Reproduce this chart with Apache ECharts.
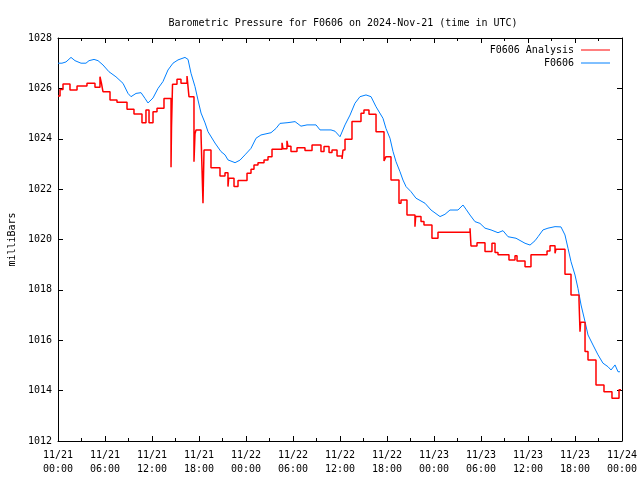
<!DOCTYPE html>
<html>
<head>
<meta charset="utf-8">
<script src="https://cdn.jsdelivr.net/npm/echarts@6/dist/echarts.min.js"></script>
<style>html,body{margin:0;padding:0;background:#fff}#c{width:640px;height:480px}</style>
</head>
<body>
<div id="c"></div>
<script>
// Time in hours since 2024-11-21 00:00 UTC
var xTicks = [0, 6, 12, 18, 24, 30, 36, 42, 48, 54, 60, 66, 72];
var yTicks = [1012, 1014, 1016, 1018, 1020, 1022, 1024, 1026, 1028];

// F0606 (observed) - blue
var obsTimes = [0,0.51,1.02,1.66,2.17,2.94,3.57,3.96,4.60,5.11,5.74,6.51,7.40,8.30,8.94,9.32,9.96,10.60,11.11,11.49,12.13,12.77,13.40,14.04,14.68,15.32,16.21,16.60,16.98,17.49,17.87,18.26,18.77,19.15,20.04,20.81,21.32,21.70,22.60,23.23,23.87,24.64,25.28,25.91,27.19,27.83,28.34,29.36,30.26,31.02,31.79,32.94,33.45,34.85,35.36,36.00,36.64,37.28,37.91,38.55,39.32,39.96,40.60,40.85,41.49,41.87,42.38,42.77,43.15,43.66,44.04,44.43,45.06,45.70,46.85,47.62,48.77,49.40,50.04,51.06,51.70,52.09,52.60,53.23,53.87,54.51,55.28,56.17,56.81,57.45,58.47,59.62,60.26,60.89,61.28,61.91,62.55,63.45,64.21,64.72,65.11,65.49,66.00,66.38,66.77,67.28,67.66,68.30,68.94,69.57,70.21,70.60,71.11,71.49,71.74];
var obsValues = [1027.0,1027.0,1027.05,1027.23,1027.1,1027.0,1027.0,1027.1,1027.15,1027.1,1026.93,1026.66,1026.46,1026.2,1025.8,1025.67,1025.8,1025.83,1025.6,1025.42,1025.62,1026.0,1026.27,1026.73,1027.0,1027.13,1027.23,1027.15,1026.6,1026.07,1025.54,1025.02,1024.63,1024.28,1023.83,1023.49,1023.36,1023.16,1023.05,1023.15,1023.36,1023.62,1024.02,1024.15,1024.24,1024.41,1024.61,1024.64,1024.68,1024.5,1024.55,1024.55,1024.35,1024.35,1024.3,1024.08,1024.55,1024.94,1025.41,1025.67,1025.74,1025.67,1025.27,1025.21,1024.81,1024.41,1024.02,1023.49,1023.09,1022.69,1022.36,1022.1,1021.9,1021.64,1021.44,1021.17,1020.91,1021.0,1021.17,1021.17,1021.37,1021.2,1020.97,1020.71,1020.64,1020.45,1020.38,1020.27,1020.35,1020.11,1020.05,1019.85,1019.78,1019.95,1020.11,1020.38,1020.45,1020.51,1020.5,1020.18,1019.65,1019.12,1018.59,1018.06,1017.4,1016.74,1016.21,1015.81,1015.42,1015.09,1014.95,1014.82,1015.02,1014.75,1014.75];

// F0606 Analysis - red (step: value holds until next time)
var anaTimes = [0.00,0.26,0.64,1.53,2.43,3.70,4.72,5.36,5.55,5.74,6.64,7.53,8.81,9.70,10.72,11.23,11.62,12.13,12.64,13.53,14.43,14.49,14.62,15.19,15.70,16.47,16.72,17.36,17.49,17.62,18.26,18.51,18.64,19.53,20.68,21.32,21.70,21.79,22.47,22.98,24.13,24.64,25.02,25.53,26.30,26.81,27.32,28.60,28.72,29.23,29.36,29.74,30.51,31.53,32.43,33.57,33.96,34.60,34.98,35.62,36.26,36.38,36.64,37.53,38.68,39.06,39.70,40.60,41.62,41.87,42.51,43.53,43.79,44.55,45.57,45.66,46.34,46.72,47.74,48.51,52.60,52.72,53.49,54.51,55.40,55.79,56.17,57.57,58.34,58.60,59.62,60.38,62.43,62.81,63.45,63.57,64.72,65.49,66.51,66.64,66.72,67.28,67.66,68.68,69.70,70.72,71.62,71.87];
var anaValues = [1025.70,1025.96,1026.17,1025.94,1026.09,1026.20,1026.04,1026.46,1026.20,1025.87,1025.54,1025.45,1025.17,1024.98,1024.64,1025.14,1024.64,1025.07,1025.21,1025.60,1022.87,1024.48,1026.16,1026.36,1026.20,1026.49,1025.67,1023.09,1024.20,1024.35,1024.15,1021.44,1023.55,1022.85,1022.52,1022.65,1022.10,1022.43,1022.10,1022.34,1022.63,1022.79,1022.96,1023.05,1023.16,1023.29,1023.58,1023.84,1023.60,1023.92,1023.70,1023.49,1023.64,1023.53,1023.75,1023.49,1023.69,1023.45,1023.55,1023.32,1023.20,1023.55,1023.98,1024.68,1025.01,1025.14,1024.97,1024.28,1023.12,1023.29,1022.36,1021.44,1021.57,1020.97,1020.51,1020.91,1020.71,1020.58,1020.05,1020.29,1020.45,1019.74,1019.87,1019.52,1019.85,1019.48,1019.39,1019.19,1019.35,1019.15,1018.92,1019.39,1019.54,1019.75,1019.45,1019.61,1018.62,1017.80,1017.60,1016.34,1016.71,1015.55,1015.22,1014.22,1013.96,1013.70,1014.03,1014.03];

var seriesNames = ['F0606 Analysis', 'F0606'];
var titleText = 'Barometric Pressure for F0606 on 2024-Nov-21 (time in UTC)';
var yName = 'milliBars';

function zip(a, b) { return a.map(function (t, i) { return [t, b[i]]; }); }
function pad(n) { return (n < 10 ? '0' : '') + n; }

var FONT = 'DejaVu Sans Mono';
var chart = echarts.init(document.getElementById('c'), null, { renderer: 'canvas' });

var tickCommon = { show: true, inside: true, length: 5, lineStyle: { color: '#000', width: 1 } };
var minorCommon = { show: true, splitNumber: 2, length: 3, lineStyle: { color: '#000', width: 1 } };
var lineCommon = { show: true, onZero: false, lineStyle: { color: '#000', width: 1 } };

chart.setOption({
  animation: false,
  backgroundColor: '#fff',
  title: {
    text: titleText, left: 338, top: 13, textAlign: 'center',
    textStyle: { fontFamily: FONT, fontSize: 10, fontWeight: 'normal', color: '#000' }
  },
  grid: { left: 58, right: 18, top: 38, bottom: 39, containLabel: false, outerBoundsMode: 'none' },
  xAxis: [{
    type: 'value', position: 'bottom', min: 0, max: 72, interval: 6,
    axisLine: lineCommon, axisTick: tickCommon, minorTick: minorCommon,
    splitLine: { show: false },
    axisLabel: {
      margin: 7, color: '#000', fontFamily: FONT, fontSize: 10, lineHeight: 14,
      formatter: function (v) { return '11/' + (21 + Math.floor(v / 24)) + '\n' + pad(v % 24) + ':00'; }
    }
  }, {
    type: 'value', position: 'top', min: 0, max: 72, interval: 6,
    axisLine: lineCommon, axisTick: tickCommon, minorTick: minorCommon,
    splitLine: { show: false }, axisLabel: { show: false }
  }],
  yAxis: [{
    type: 'value', position: 'left', min: yTicks[0], max: yTicks[yTicks.length - 1], interval: 2,
    axisLine: lineCommon, axisTick: tickCommon, splitLine: { show: false },
    axisLabel: { margin: 6, color: '#000', fontFamily: FONT, fontSize: 10, formatter: function (v) { return String(v); } },
    name: yName, nameLocation: 'middle', nameGap: 38, nameRotate: 90,
    nameTextStyle: { fontFamily: FONT, fontSize: 10, color: '#000' }
  }, {
    type: 'value', position: 'right', min: yTicks[0], max: yTicks[yTicks.length - 1], interval: 2,
    axisLine: lineCommon, axisTick: tickCommon, splitLine: { show: false }, axisLabel: { show: false }
  }],
  series: [{
    name: seriesNames[1], type: 'line', data: zip(obsTimes, obsValues),
    showSymbol: false, lineStyle: { color: '#0080ff', width: 1 }, itemStyle: { color: '#0080ff' }, z: 2
  }, {
    name: seriesNames[0], type: 'line', step: 'end', data: zip(anaTimes, anaValues),
    showSymbol: false, lineStyle: { color: '#ff0000', width: 1.5 }, itemStyle: { color: '#ff0000' }, z: 3
  }],
  graphic: [
    { type: 'text', x: 574, y: 50, style: { text: seriesNames[0], align: 'right', verticalAlign: 'middle', font: '10px "DejaVu Sans Mono"', fill: '#000' } },
    { type: 'line', shape: { x1: 581, y1: 50, x2: 610, y2: 50 }, style: { stroke: '#ff0000', lineWidth: 1 } },
    { type: 'text', x: 574, y: 63, style: { text: seriesNames[1], align: 'right', verticalAlign: 'middle', font: '10px "DejaVu Sans Mono"', fill: '#000' } },
    { type: 'line', shape: { x1: 581, y1: 63, x2: 610, y2: 63 }, style: { stroke: '#0080ff', lineWidth: 1 } }
  ]
});
</script>
</body>
</html>
